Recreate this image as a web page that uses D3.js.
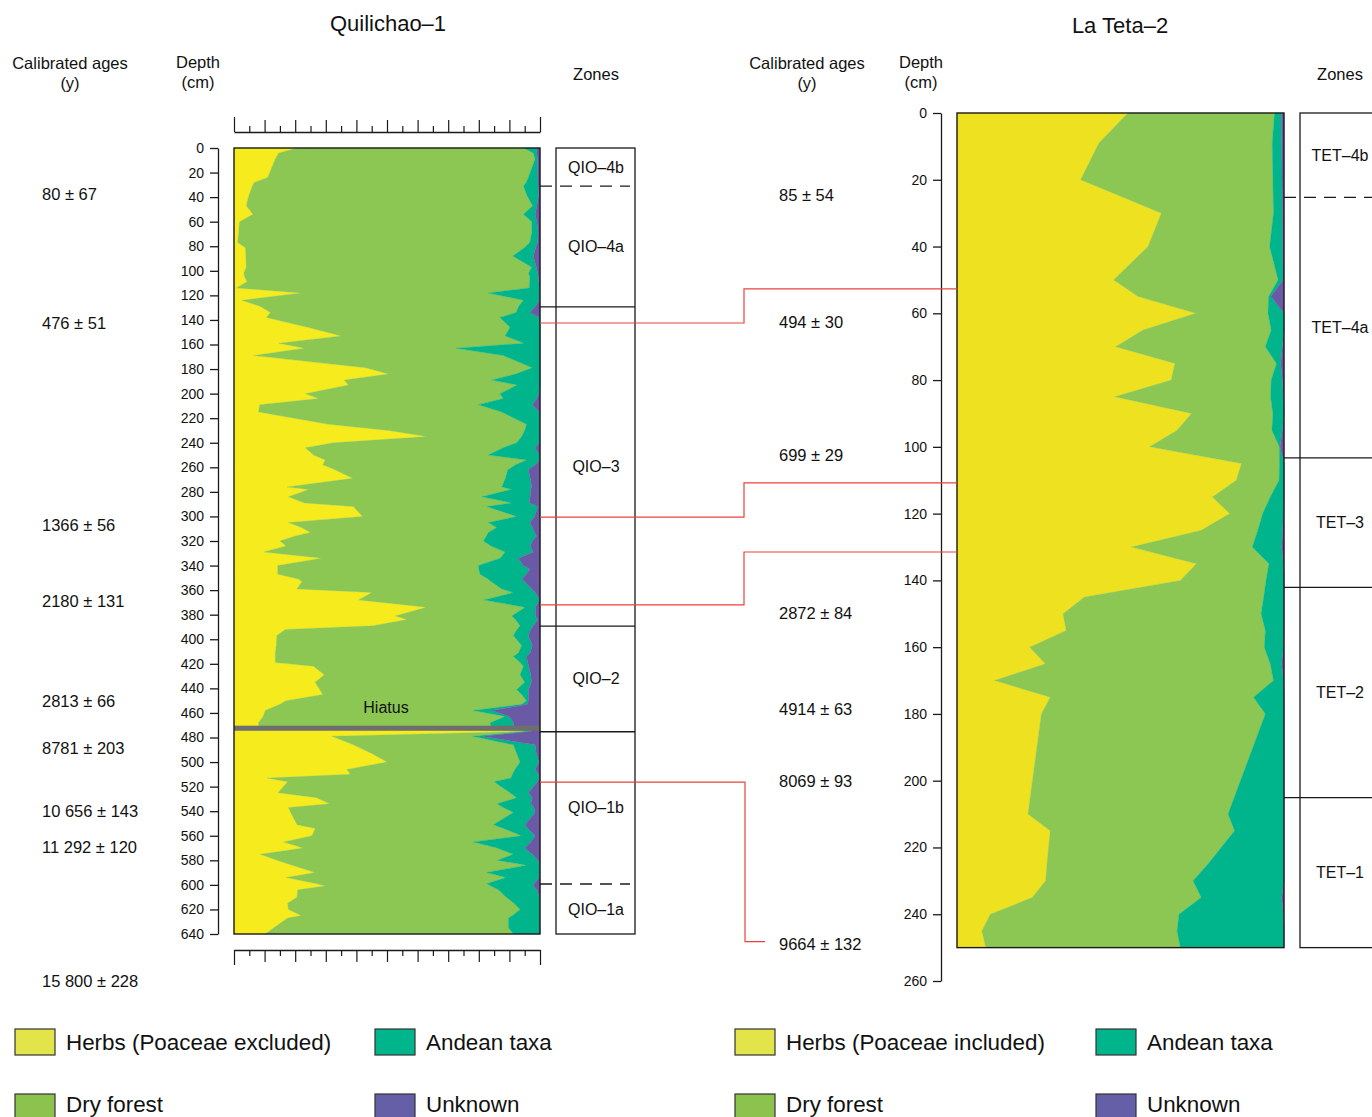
<!DOCTYPE html>
<html><head><meta charset="utf-8">
<script src="https://cdn.jsdelivr.net/npm/d3@7"></script>
<style>
body{margin:0;background:#fff}
text{font-family:"Liberation Sans",Arial,Helvetica,sans-serif;fill:#111}
</style>
</head><body>
<svg id="c" width="1372" height="1117"></svg>
<script>
// ---------------- DATA ----------------
const keys = ["herbs","dry","andean","unknown"];

// Quilichao-1 (percent)
const qDepth = [0,4,9,24,28,31,39,47,54,60,69,77,81,88,97,102,105,109,114,118,124,129,134,138,146,153,159,163,169,179,184,189,193,200,204,209,215,225,230,235,240,244,250,254,258,262,269,276,278,284,289,292,300,305,309,313,316,320,324,329,334,340,343,347,351,353,359,362,368,374,381,384,389,392,397,405,411,414,419,422,429,435,441,445,450,453,458,463,468,471,475,479,486,493,500,506,510,513,516,525,529,534,537,541,551,554,560,565,570,575,580,584,590,594,599,601,604,610,615,620,625,627,635,640];
const qHerbs = [20.6,14.6,13.5,11.0,6.6,6.0,4.8,4.0,6.2,1.8,1.5,1.2,3.7,3.9,4.0,3.2,3.5,4.2,0.8,22.0,2.6,8.6,11.9,10.6,24.0,35.0,14.6,23.0,6.4,43.0,50.5,36.0,37.4,23.3,27.6,8.4,8.0,30.9,50.5,63.0,32.5,23.3,26.0,29.8,29.0,33.0,38.8,17.3,24.4,17.8,23.0,39.0,42.0,17.8,22.0,25.0,20.0,15.0,17.0,9.7,28.7,14.3,14.3,14.3,21.0,22.2,20.6,45.0,40.7,62.8,52.7,56.5,45.4,16.8,14.0,13.8,13.5,13.5,13.5,26.0,29.5,26.5,28.0,29.0,17.0,15.0,10.2,9.5,8.0,8.0,95.0,32.0,39.0,45.0,50.0,36.9,38.0,10.8,17.5,14.4,27.0,31.2,17.8,18.5,20.6,26.5,25.5,16.2,22.5,8.6,14.0,19.0,26.5,17.0,27.0,29.8,20.8,20.6,17.5,17.8,21.9,17.5,13.0,10.2];
const qDry = [74.0,83.2,84.9,85.2,88.9,88.6,91.0,93.6,88.4,95.5,95.8,95.5,91.3,87.2,93.3,93.0,93.2,92.4,95.7,61.1,92.0,84.4,80.3,76.3,66.2,53.6,80.2,49.6,81.6,54.5,41.5,48.2,55.2,63.6,60.4,71.5,79.5,64.7,44.5,31.0,59.9,64.7,57.1,65.8,63.0,56.5,49.9,70.2,66.4,63.2,67.8,43.6,50.4,65.3,63.9,58.1,62.5,66.5,67.0,78.9,58.3,65.6,65.7,66.1,62.0,61.8,66.9,46.3,41.0,32.3,38.1,35.5,48.1,75.7,77.3,80.2,79.5,77.8,80.0,68.6,64.0,68.5,64.4,65.0,78.6,79.0,68.0,79.1,75.7,76.0,1.5,46.0,52.3,47.4,43.5,54.9,53.0,79.7,67.5,75.8,65.4,54.8,70.2,72.8,64.2,61.5,68.5,62.0,63.5,82.7,72.1,76.6,56.1,71.9,55.6,54.2,65.6,68.4,74.0,75.7,69.1,72.2,76.7,81.1];
const qAndean = [4.2,1.2,0.8,3.1,3.8,4.8,3.7,1.4,3.8,1.7,2.1,2.5,3.6,6.7,1.5,3.1,2.8,3.0,3.3,16.7,5.2,5.5,4.5,12.9,9.8,11.4,5.2,27.4,12.0,2.5,8.0,15.8,7.4,12.7,11.0,17.6,12.3,4.2,4.8,5.8,7.4,10.4,16.7,4.2,6.5,6.7,8.1,9.8,6.2,15.8,5.7,16.7,5.8,13.6,11.6,15.1,16.4,16.0,12.8,9.2,5.9,14.6,16.7,15.1,11.0,11.0,9.8,7.2,18.1,3.4,7.7,7.3,4.3,4.5,4.9,3.5,3.8,4.3,2.5,1.7,3.5,2.2,3.9,2.2,0.6,1.8,6.0,1.4,7.6,7.5,1.0,3.0,7.1,6.4,6.2,6.6,8.5,9.2,14.2,6.0,5.1,11.0,10.0,7.1,10.3,8.0,4.4,18.8,9.0,6.2,13.3,4.2,17.2,10.9,15.4,13.8,12.6,10.8,8.3,6.3,8.8,10.1,10.1,8.5];
const qUnknown = [1.2,1.0,0.8,0.7,0.7,0.6,0.5,1.0,1.6,1.0,0.6,0.8,1.4,2.2,1.2,0.7,0.5,0.4,0.2,0.2,0.2,1.5,3.3,0.2,0,0,0,0,0,0,0,0,0,0.4,1.0,2.5,0.2,0.2,0.2,0.2,0.2,1.6,0.2,0.2,1.5,3.8,3.2,2.7,3.0,3.2,3.5,0.7,1.8,3.3,2.5,1.8,1.1,2.5,3.2,2.2,7.1,5.5,3.3,4.5,6.0,5.0,2.7,1.5,0.2,1.5,1.5,0.7,2.2,3.0,3.8,2.5,3.2,4.4,4.0,3.7,3.0,2.8,3.7,3.8,3.8,4.2,15.8,10.0,8.7,8.5,2.5,19.0,1.6,1.2,0.3,1.6,0.5,0.3,0.8,3.8,2.5,3.0,2.0,1.6,4.9,4.0,1.6,3.0,5.0,2.5,0.6,0.2,0.2,0.2,2.0,2.2,1.0,0.2,0.2,0.2,0.2,0.2,0.2,0.2];
const qHiatus = [470.4, 474.5];
const qZoneNames = ["QIO–4b","QIO–4a","QIO–3","QIO–2","QIO–1b","QIO–1a"];
const qZoneBounds = [0,31,129.3,389.3,475.3,599.3,640];
const qZoneDashed = [true,false,false,false,true];
const qAges = ["80 ± 67","476 ± 51","1366 ± 56","2180 ± 131","2813 ± 66","8781 ± 203","10 656 ± 143","11 292 ± 120","15 800 ± 228"];
const qAgeDepths = [37.5,142.5,307,369,450,488.5,540,569,678];

// La Teta-2 (percent)
const tDepth = [0,9,20,30,40,50,55,60,65,70,75,80,85,90,95,100,105,110,115,120,125,130,135,140,145,150,155,160,165,170,175,180,210,215,225,230,235,240,245,250];
const tHerbs = [52.3,43.4,37.8,62.5,58.4,47.9,55.4,73.0,56.9,48.5,66.6,65.5,48.2,71.7,67.3,58.9,87.0,85.4,78.1,83.4,74.7,53.3,73.2,68.3,39.0,32.4,33.4,22.2,27.0,11.5,28.5,25.8,21.7,28.5,27.5,27.1,23.0,10.2,7.6,8.8];
const tDry = [44.8,53.0,58.8,34.3,37.2,50.3,39.9,22.1,39.2,45.8,31.1,30.6,47.7,24.9,29.0,39.7,11.6,13.1,17.7,10.1,17.3,37.0,22.2,26.2,54.8,60.6,60.9,71.8,68.8,85.3,62.2,68.5,61.2,56.4,49.2,45.1,51.7,57.7,59.7,59.5];
const tAndean = [2.1,2.9,2.8,2.7,4.0,1.5,0.7,4.9,3.9,5.2,1.3,3.4,3.9,3.4,3.2,0.2,1.4,1.5,4.2,6.3,7.6,9.0,4.4,5.5,6.2,7.0,5.7,5.8,3.5,3.0,9.3,5.7,17.1,15.1,23.3,27.8,24.6,31.9,32.7,31.7];
const tUnknown = [0.8,0.7,0.6,0.5,0.4,0.3,4.0,0,0,0.5,1.0,0.5,0.2,0,0.5,1.2,0,0,0,0.2,0.4,0.7,0.2,0,0,0,0,0.2,0.7,0.2,0,0,0,0,0,0,0.7,0.2,0,0];
const tZoneNames = ["TET–4b","TET–4a","TET–3","TET–2","TET–1"];
const tZoneBounds = [0,25.3,103.3,142.1,205.1,250];
const tZoneDashed = [true,false,false,false];
const tAges = ["85 ± 54","494 ± 30","699 ± 29","2872 ± 84","4914 ± 63","8069 ± 93","9664 ± 132"];
const tAgeDepths = [24.6,62.6,102.5,149.8,178.5,200.1,249];

// correlation lines: left depth -> right depth
const corrLeft = [142.5,300.5,372,516.3];
const corrRight = [52.7,110.8,131.5,248.2];

const depthTicksQ = d3.range(0,641,20);
const depthTicksT = d3.range(0,261,20);
const pctTicks = d3.range(0,101,5);

const legendLeft = ["Herbs (Poaceae excluded)","Andean taxa","Dry forest","Unknown"];
const legendRight = ["Herbs (Poaceae included)","Andean taxa","Dry forest","Unknown"];

// ---------------- STYLE ----------------
const colQ = {herbs:"#f6eb1c",dry:"#8cc753",andean:"#00b48b",unknown:"#6a5aa6"};
const colT = {herbs:"#eee11f",dry:"#8cc753",andean:"#00b48b",unknown:"#6a5aa6"};
const legCol = {herbs:"#e3e34a",dry:"#8cc34f",andean:"#00b48b",unknown:"#655fa8"};
const ink = "#1a1a1a";
const red = "#e8443a";

const svg = d3.select("#c");

function table(depth, arrs){
  return depth.map((d,i)=>({depth:d, herbs:arrs[0][i], dry:arrs[1][i], andean:arrs[2][i], unknown:arrs[3][i]}));
}
const qRows = table(qDepth,[qHerbs,qDry,qAndean,qUnknown]);
const tRows = table(tDepth,[tHerbs,tDry,tAndean,tUnknown]);

// scales
const xQ = d3.scaleLinear([0,100],[234,540]);
const yQ = d3.scaleLinear([0,640],[148,934]);
const xT = d3.scaleLinear([0,100],[957,1284]);
const yT = d3.scaleLinear([0,260],[113,981]);

function drawAreas(rows, x, y, col){
  const series = d3.stack().keys(keys)(rows);
  const area = d3.area()
    .y(d=>y(d.data.depth))
    .x0(d=>x(d[0]))
    .x1(d=>x(d[1]));
  svg.append("g").selectAll("path").data(series).join("path")
    .attr("d",area).attr("fill",s=>col[s.key]).attr("stroke",s=>col[s.key]).attr("stroke-width",0.3);
}
drawAreas(qRows,xQ,yQ,colQ);
drawAreas(tRows,xT,yT,colT);

// hiatus
svg.append("rect").attr("x",xQ(0)).attr("width",xQ(100)-xQ(0))
  .attr("y",yQ(qHiatus[0])).attr("height",yQ(qHiatus[1])-yQ(qHiatus[0])).attr("fill","#6e6e6e");
svg.append("text").attr("x",386).attr("y",yQ(455.5)).attr("text-anchor","middle")
  .attr("dominant-baseline","central").style("font-size","16px").text("Hiatus");

// frames
svg.append("rect").attr("x",xQ(0)).attr("y",yQ(0)).attr("width",xQ(100)-xQ(0)).attr("height",yQ(640)-yQ(0))
  .attr("fill","none").attr("stroke",ink).attr("stroke-width",1.4);
svg.append("rect").attr("x",xT(0)).attr("y",yT(0)).attr("width",xT(100)-xT(0)).attr("height",yT(250)-yT(0))
  .attr("fill","none").attr("stroke",ink).attr("stroke-width",1.4);

// depth axes
function depthAxis(scale, ticks, xpos){
  const g = svg.append("g").attr("transform",`translate(${xpos},0)`)
    .call(d3.axisLeft(scale).tickValues(ticks).tickSize(8).tickSizeOuter(0).tickPadding(6));
  g.select(".domain").attr("stroke",ink).attr("stroke-width",1.3);
  g.selectAll(".tick line").attr("stroke",ink).attr("stroke-width",1.3);
  g.selectAll(".tick text").style("font-size","14px").attr("fill","#111")
    .style("font-family","'Liberation Sans',Arial,sans-serif");
}
depthAxis(yQ, depthTicksQ, 218);
depthAxis(yT, depthTicksT, 941);

// percentage tick axes (top & bottom) for Quilichao
function pctAxis(ypos, dir){
  const ax = dir<0 ? d3.axisTop(xQ) : d3.axisBottom(xQ);
  const g = svg.append("g").attr("transform",`translate(0,${ypos})`)
    .call(ax.tickValues(pctTicks).tickFormat("").tickSizeOuter(0));
  g.select(".domain").attr("stroke",ink).attr("stroke-width",1.3);
  g.selectAll(".tick line").attr("stroke",ink).attr("stroke-width",1.2)
    .attr("y2",v=> dir*((v===0||v===100)?15:(v%10===0?12:6)));
}
pctAxis(132,-1);
pctAxis(950,1);

// zones
function zones(x0, x1, lineX0, lineX1, y, names, bounds, dashed, cx){
  svg.append("rect").attr("x",x0).attr("y",y(bounds[0])).attr("width",x1-x0)
    .attr("height",y(bounds[bounds.length-1])-y(bounds[0])).attr("fill","none").attr("stroke",ink).attr("stroke-width",1.3);
  bounds.slice(1,-1).forEach((b,i)=>{
    svg.append("line").attr("x1",lineX0).attr("x2",dashed[i]?lineX1-5:lineX1)
      .attr("y1",y(b)).attr("y2",y(b)).attr("stroke",ink).attr("stroke-width",1.3)
      .attr("stroke-dasharray",dashed[i]?"12,8":null);
  });
  names.forEach((n,i)=>{
    svg.append("text").attr("x",cx).attr("y",y((bounds[i]+bounds[i+1])/2))
      .attr("text-anchor","middle").attr("dominant-baseline","central").style("font-size","16px").text(n);
  });
}
zones(556,635,540,635,yQ,qZoneNames,qZoneBounds,qZoneDashed,596);
zones(1300,1380,1284,1380,yT,tZoneNames,tZoneBounds,tZoneDashed,1340);

// correlation lines
corrLeft.forEach((dl,i)=>{
  const last = i===corrLeft.length-1;
  const xm = last?745:744;
  const pts = [[xQ(100),yQ(dl)],[xm,yQ(dl)],[xm,yT(corrRight[i])],[last?765:xT(0),yT(corrRight[i])]];
  svg.append("path").attr("d",d3.line()(pts)).attr("fill","none").attr("stroke",red).attr("stroke-width",1.2);
});

// ages
qAges.forEach((a,i)=>svg.append("text").attr("x",42).attr("y",yQ(qAgeDepths[i]))
  .attr("dominant-baseline","central").style("font-size","16.5px").text(a));
tAges.forEach((a,i)=>svg.append("text").attr("x",779).attr("y",yT(tAgeDepths[i]))
  .attr("dominant-baseline","central").style("font-size","16.5px").text(a));

// headers
function txt(x,y,s,size,anchor){
  svg.append("text").attr("x",x).attr("y",y).attr("text-anchor",anchor||"middle")
    .attr("dominant-baseline","central").style("font-size",size+"px").text(s);
}
txt(388,23,"Quilichao–1",22);
txt(1120,25,"La Teta–2",22);
txt(70,63,"Calibrated ages",16.5); txt(70,83,"(y)",16.5);
txt(198,62,"Depth",16.5); txt(198,82,"(cm)",16.5);
txt(596,74,"Zones",16.5);
txt(807,63,"Calibrated ages",16.5); txt(807,83,"(y)",16.5);
txt(921,62,"Depth",16.5); txt(921,82,"(cm)",16.5);
txt(1340,74,"Zones",16.5);

// legends
function legend(labels, cols){
  const pos = [[cols[0],1029],[cols[1],1029],[cols[0],1094],[cols[1],1094]];
  const lk = ["herbs","andean","dry","unknown"];
  labels.forEach((l,i)=>{
    const [x,y]=pos[i];
    svg.append("rect").attr("x",x).attr("y",y).attr("width",40).attr("height",26)
      .attr("fill",legCol[lk[i]]).attr("stroke","#333").attr("stroke-width",1.2);
    svg.append("text").attr("x",x+51).attr("y",i<2?y+13:y+10).attr("dominant-baseline","central")
      .style("font-size","22.4px").text(l);
  });
}
legend(legendLeft,[15,375]);
legend(legendRight,[735,1096]);
</script>
</body></html>
